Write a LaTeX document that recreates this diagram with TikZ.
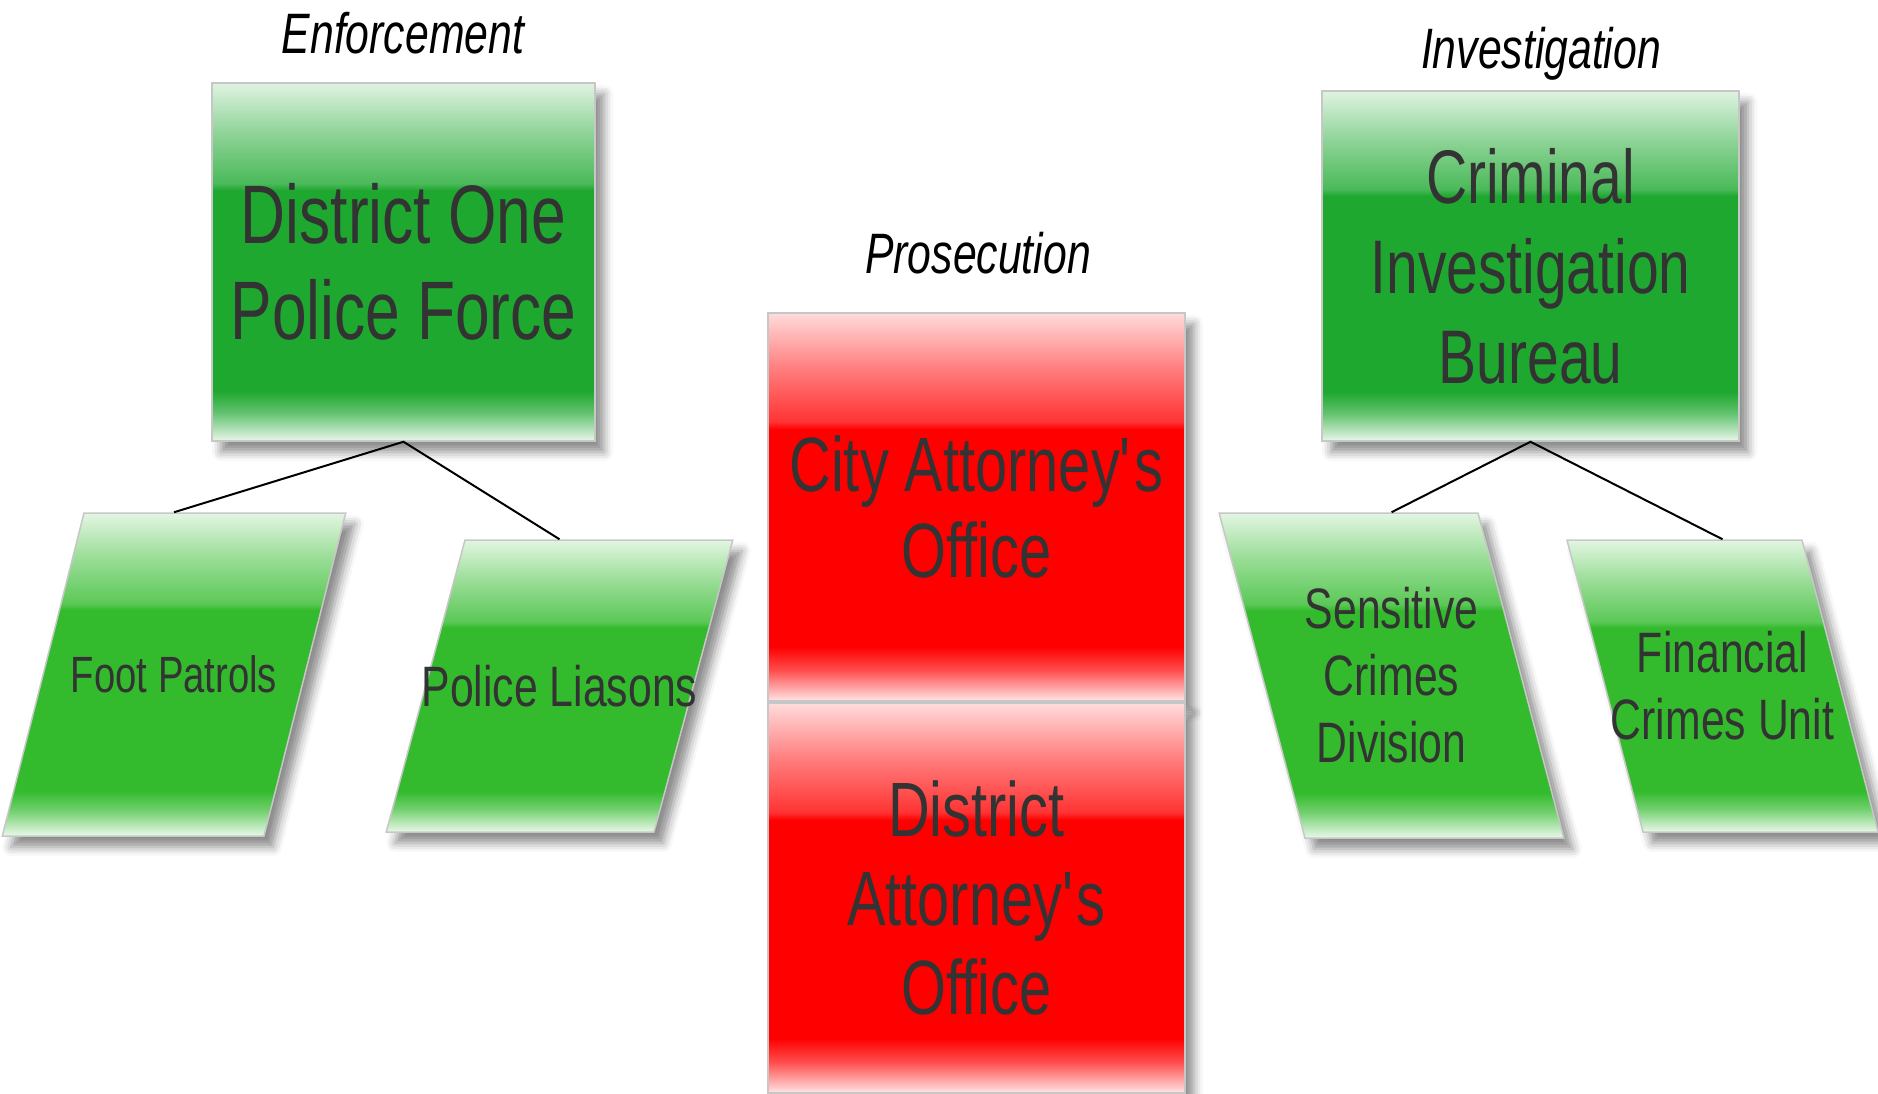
\documentclass[tikz,border=0pt]{standalone}
\usepackage{fontspec}
\setmainfont{Liberation Sans}[FakeStretch=0.75]
\usetikzlibrary{shapes.geometric,shadows.blur}
\definecolor{deepgreen}{RGB}{30,168,48}
\definecolor{leafgreen}{RGB}{51,187,45}
\definecolor{txtgray}{RGB}{51,51,51}
\newcommand\glossy[2]{\pgfdeclareverticalshading{#1}{100bp}{color(0bp)=(#2!10); color(25bp)=(#2!10); color(29bp)=(#2!70); color(32bp)=(#2); color(60bp)=(#2); color(61bp)=(#2!80); color(68bp)=(#2!50); color(75bp)=(#2!14); color(100bp)=(#2!14)}}
\glossy{gdeep}{deepgreen}
\glossy{gleaf}{leafgreen}
\glossy{gred}{red}
\tikzset{
  soft shadow/.style={blur shadow={shadow xshift=9pt, shadow yshift=-11pt, shadow blur radius=9pt, shadow opacity=45}},
  head/.style={rectangle, draw=black!22, line width=1.5pt, shading=gdeep, align=center, inner sep=0pt, soft shadow},
  office/.style={head, shading=gred, minimum width=417pt, font=\fontsize{77}{86}\selectfont},
  part/.style={trapezium, draw=black!22, line width=1.5pt, shading=gleaf, soft shadow},
  part text/.style={align=center, text=txtgray, font=\fontsize{57}{67}\selectfont},
  group/.style={anchor=base, text=black, font=\fontsize{57}{68}\selectfont\itshape},
  link/.style={draw=black, line width=2pt}
}
\begin{document}
\begin{tikzpicture}[x=1pt,y=-1pt,every node/.append style={text=txtgray}]
\useasboundingbox (0,0) rectangle (1878,1093);
\node[group] (enf) at (403,53) {Enforcement};
\node[group] (pros) at (978,273) {Prosecution};
\node[group] (inv) at (1541,68) {Investigation};
\node[head, minimum width=383pt, minimum height=358pt, font=\fontsize{83}{96}\selectfont] (force) at (403.5,262) {District One\\Police Force};
\node[head, minimum width=417pt, minimum height=350pt, font=\fontsize{76}{90}\selectfont] (bureau) at (1530.5,266) {Criminal\\Investigation\\Bureau};
\node[office, minimum height=388pt] (city) at (976.5,507) {City Attorney\textquotesingle s\\Office};
\node[office, minimum height=390pt, font=\fontsize{77}{89}\selectfont] (da) at (976.5,898) {District\\Attorney\textquotesingle s\\Office};
% parallelograms: inner xsep = half body, inner ysep = half height
\node[part, inner xsep=90pt, inner ysep=161.5pt, trapezium left angle=75.8, trapezium right angle=104.2,
  label={[part text, font=\fontsize{51}{60}\selectfont]center:Foot Patrols}] (foot) at (174,674.5) {};
\node[part, inner xsep=94.5pt, inner ysep=146pt, trapezium left angle=74.9, trapezium right angle=105.1,
  label={[part text]center:Police Liasons}] (liaison) at (559.5,686) {};
\node[part, inner xsep=86.5pt, inner ysep=162.5pt, trapezium left angle=104.8, trapezium right angle=75.2,
  label={[part text]center:Sensitive\\Crimes\\Division}] (sensitive) at (1391.5,675.5) {};
\node[part, inner xsep=79.5pt, inner ysep=146pt, trapezium left angle=104.6, trapezium right angle=75.4,
  label={[part text]center:Financial\\Crimes Unit}] (financial) at (1722.5,686) {};
\draw[link] (foot |- foot.top side) -- (force.south) -- (liaison |- liaison.top side);
\draw[link] (sensitive |- sensitive.top side) -- (bureau.south) -- (financial |- financial.top side);
\end{tikzpicture}
\end{document}
